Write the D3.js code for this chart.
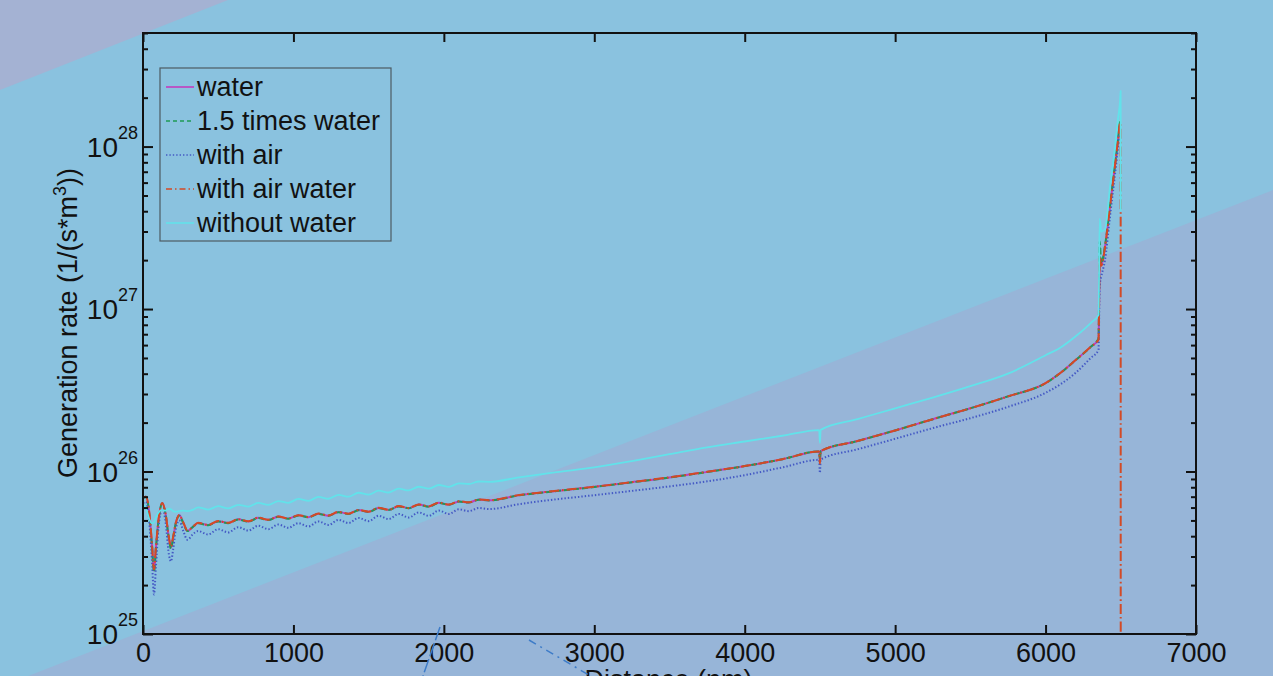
<!DOCTYPE html>
<html>
<head>
<meta charset="utf-8">
<script src="https://cdn.jsdelivr.net/npm/d3@7"></script>
<style>
  html, body { margin: 0; padding: 0; overflow: hidden; background: #8AC2DF; }
  svg { display: block; font-family: "Liberation Sans", Arial, sans-serif; }
</style>
</head>
<body>
<script>
// Distance along the device (nm)
const distance = [
  0, 20, 45, 60, 73, 86, 103, 128, 150, 172, 186, 200, 220, 241, 268, 295, 330,
  366, 433, 500, 566, 633, 700, 766, 833, 900, 966, 1033, 1100, 1166, 1233, 1300, 1366,
  1433, 1500, 1566, 1633, 1700, 1766, 1833, 1900, 1966, 2033,
  2100, 2166, 2233, 2300, 2500, 2750, 3000, 3250, 3500, 3750, 4000, 4250, 4495, 4500, 4505, 4750, 5000,
  5250, 5500, 5750, 6000, 6100, 6200, 6300,
  6352, 6360, 6370, 6395, 6428, 6462, 6482, 6495, 6499, 6500
];

// Generation rate, 1/(s*m^3)
const water = [
  6.9e25, 7.0e25, 5.2e25, 3.5e25, 2.45e25, 3.4e25, 5.0e25, 6.4e25, 5.5e25, 3.9e25, 3.4e25, 3.9e25, 4.9e25, 5.4e25, 4.85e25, 4.3e25, 4.55e25,
  4.82e25, 4.68e25, 4.95e25, 4.82e25, 5.08e25, 4.93e25, 5.19e25, 5.04e25, 5.28e25, 5.13e25, 5.38e25, 5.24e25, 5.50e25, 5.35e25, 5.64e25, 5.49e25,
  5.79e25, 5.65e25, 5.97e25, 5.81e25, 6.12e25, 5.95e25, 6.26e25, 6.09e25, 6.43e25, 6.25e25,
  6.55e25, 6.45e25, 6.72e25, 6.65e25, 7.15e25, 7.6e25, 8.05e25, 8.6e25, 9.2e25, 9.95e25, 1.08e26, 1.19e26, 1.33e26, 1.15e26, 1.335e26, 1.54e26, 1.79e26,
  2.1e26, 2.45e26, 2.9e26, 3.5e26, 4.05e26, 4.85e26, 5.85e26,
  6.5e26, 2.0e27, 1.85e27, 2.4e27, 4.26e27, 7.7e27, 1.1e28, 1.4e28, 1.4e28, 1.4e28
];
const water15 = [
  6.85e25, 7.0e25, 5.1e25, 3.45e25, 2.4e25, 3.35e25, 5.0e25, 6.35e25, 5.45e25, 3.85e25, 3.35e25, 3.9e25, 4.9e25, 5.35e25, 4.8e25, 4.3e25, 4.55e25,
  4.80e25, 4.67e25, 4.93e25, 4.81e25, 5.06e25, 4.92e25, 5.17e25, 5.03e25, 5.26e25, 5.12e25, 5.37e25, 5.23e25, 5.48e25, 5.34e25, 5.62e25, 5.48e25,
  5.77e25, 5.64e25, 5.95e25, 5.80e25, 6.10e25, 5.94e25, 6.24e25, 6.08e25, 6.41e25, 6.24e25,
  6.53e25, 6.44e25, 6.70e25, 6.64e25, 7.13e25, 7.58e25, 8.03e25, 8.58e25, 9.18e25, 9.93e25, 1.08e26, 1.19e26, 1.33e26, 1.18e26, 1.335e26, 1.54e26, 1.79e26,
  2.1e26, 2.45e26, 2.9e26, 3.5e26, 4.05e26, 4.85e26, 5.85e26,
  6.6e26, 2.6e27, 1.9e27, 2.45e27, 4.3e27, 7.8e27, 1.12e28, 1.42e28, 1.42e28, 1.42e28
];
const withAir = [
  6.4e25, 6.5e25, 4.5e25, 2.8e25, 1.75e25, 2.6e25, 4.5e25, 5.9e25, 4.9e25, 3.1e25, 2.8e25, 3.3e25, 4.5e25, 5.0e25, 4.3e25, 3.8e25, 4.1e25,
  4.30e25, 4.10e25, 4.42e25, 4.22e25, 4.54e25, 4.33e25, 4.64e25, 4.42e25, 4.72e25, 4.50e25, 4.81e25, 4.59e25, 4.93e25, 4.69e25, 5.04e25, 4.82e25,
  5.18e25, 4.95e25, 5.34e25, 5.10e25, 5.48e25, 5.21e25, 5.60e25, 5.34e25, 5.75e25, 5.48e25,
  5.85e25, 5.70e25, 5.97e25, 5.87e25, 6.3e25, 6.75e25, 7.15e25, 7.6e25, 8.1e25, 8.7e25, 9.5e25, 1.06e26, 1.18e26, 9.8e25, 1.185e26, 1.37e26, 1.59e26,
  1.85e26, 2.13e26, 2.5e26, 3.05e26, 3.45e26, 4.05e26, 5.0e26,
  5.6e26, 1.4e27, 1.58e27, 2.0e27, 3.7e27, 6.8e27, 1.0e28, 1.3e28, 1.3e28, 1.3e28
];
const withAirWater = [
  6.95e25, 7.0e25, 5.25e25, 3.55e25, 2.5e25, 3.45e25, 5.05e25, 6.4e25, 5.5e25, 3.95e25, 3.45e25, 3.95e25, 4.9e25, 5.4e25, 4.85e25, 4.35e25, 4.55e25,
  4.83e25, 4.69e25, 4.96e25, 4.83e25, 5.09e25, 4.94e25, 5.20e25, 5.05e25, 5.29e25, 5.14e25, 5.39e25, 5.25e25, 5.51e25, 5.36e25, 5.65e25, 5.50e25,
  5.80e25, 5.66e25, 5.98e25, 5.82e25, 6.13e25, 5.96e25, 6.27e25, 6.10e25, 6.44e25, 6.26e25,
  6.56e25, 6.46e25, 6.73e25, 6.66e25, 7.16e25, 7.61e25, 8.06e25, 8.61e25, 9.21e25, 9.96e25, 1.08e26, 1.19e26, 1.33e26, 1.12e26, 1.335e26, 1.54e26, 1.79e26,
  2.1e26, 2.45e26, 2.9e26, 3.5e26, 4.05e26, 4.85e26, 5.85e26,
  6.5e26, 2.1e27, 1.85e27, 2.4e27, 4.26e27, 7.7e27, 1.1e28, 1.4e28, 1.4e28, 1e20
];
const withoutWater = [
  6.3e25, 5.9e25, 5.0e25, 4.8e25, 4.85e25, 5.2e25, 5.6e25, 5.8e25, 5.75e25, 5.9e25, 5.85e25, 5.7e25, 5.65e25, 5.7e25, 5.75e25, 5.7e25, 5.8e25,
  6.02e25, 5.83e25, 6.12e25, 5.93e25, 6.24e25, 6.08e25, 6.41e25, 6.23e25, 6.58e25, 6.42e25, 6.78e25, 6.60e25, 6.98e25, 6.80e25, 7.18e25, 7.00e25,
  7.40e25, 7.21e25, 7.62e25, 7.43e25, 7.84e25, 7.65e25, 8.06e25, 7.84e25, 8.26e25, 8.05e25,
  8.45e25, 8.38e25, 8.68e25, 8.64e25, 9.2e25, 9.9e25, 1.06e26, 1.16e26, 1.28e26, 1.41e26, 1.53e26, 1.66e26, 1.80e26, 1.50e26, 1.805e26, 2.1e26, 2.45e26,
  2.85e26, 3.35e26, 4.0e26, 5.2e26, 5.8e26, 6.8e26, 8.2e26,
  9.2e26, 3.6e27, 3.0e27, 3.1e27, 5.6e27, 1.0e28, 1.5e28, 1.9e28, 2.2e28, 4.0e27
];

const seriesNames = ["water", "1.5 times water", "with air", "with air water", "without water"];
const xTicks = [0, 1000, 2000, 3000, 4000, 5000, 6000, 7000];
const yDecades = [25, 26, 27, 28];

const W = 1273, H = 676;
const svg = d3.select("body").append("svg").attr("width", W).attr("height", H);

// slide backdrop with diagonal bands
svg.append("rect").attr("width", W).attr("height", H).attr("fill", "#8AC2DF");
svg.append("polygon").attr("points", "0,0 228,0 0,90").attr("fill", "#A4B2D3");
svg.append("polygon").attr("points", "0,687 1273,190 1273,676 0,676").attr("fill", "#97B5D8");

const plot = { left: 143, right: 1196, top: 33, bottom: 634 };
const x = d3.scaleLinear().domain([0, 7000]).range([plot.left, plot.right]);
const y = d3.scaleLog().domain([1e25, 5e28]).range([plot.bottom, plot.top]);

svg.append("clipPath").attr("id", "plotClip")
  .append("rect")
  .attr("x", plot.left).attr("y", plot.top)
  .attr("width", plot.right - plot.left).attr("height", plot.bottom - plot.top);

const styles = [
  { color: "#C23CBE", dash: null, width: 2 },
  { color: "#1F9A55", dash: "6,3", width: 2 },
  { color: "#4459C4", dash: "1.4,2", width: 2 },
  { color: "#D34A26", dash: "10,3,1.6,3", width: 2 },
  { color: "#62E2EA", dash: null, width: 1.8 }
];
const allSeries = [water, water15, withAir, withAirWater, withoutWater];

const line = d3.line()
  .x(d => x(d[0]))
  .y(d => y(d[1]))
  .curve(d3.curveMonotoneX);

const lines = svg.append("g").attr("clip-path", "url(#plotClip)");
allSeries.forEach((vals, i) => {
  const pts = distance.map((d, k) => [d, vals[k]]);
  lines.append("path")
    .datum(pts)
    .attr("d", line)
    .attr("fill", "none")
    .attr("stroke", styles[i].color)
    .attr("stroke-width", styles[i].width)
    .attr("stroke-dasharray", styles[i].dash)
    .attr("stroke-linejoin", "round");
});

// axes: ticks point inward on all four sides
const minorVals = [];
yDecades.forEach(d => {
  for (let m = 2; m <= 9; m++) {
    const v = m * Math.pow(10, d);
    if (v <= 5e28) minorVals.push(v);
  }
});
const majorVals = yDecades.map(d => Math.pow(10, d));

function styleAxis(g) {
  g.select(".domain").remove();
  g.selectAll(".tick line").attr("stroke", "#111").attr("stroke-width", 2);
}

svg.append("g").attr("transform", `translate(0,${plot.bottom})`)
  .call(d3.axisBottom(x).tickValues(xTicks).tickSize(-9).tickSizeOuter(0).tickPadding(9).tickFormat(d3.format("d")))
  .call(styleAxis)
  .call(g => g.selectAll(".tick text")
    .attr("font-size", 27).attr("fill", "#111")
    .attr("font-family", "Liberation Sans, Arial, sans-serif"));

svg.append("g").attr("transform", `translate(0,${plot.top})`)
  .call(d3.axisTop(x).tickValues(xTicks).tickSize(-9).tickSizeOuter(0).tickFormat(""))
  .call(styleAxis);

svg.append("g").attr("transform", `translate(${plot.left},0)`)
  .call(d3.axisLeft(y).tickValues(majorVals).tickSize(-10).tickSizeOuter(0).tickFormat(""))
  .call(styleAxis);
svg.append("g").attr("transform", `translate(${plot.left},0)`)
  .call(d3.axisLeft(y).tickValues(minorVals).tickSize(-5).tickSizeOuter(0).tickFormat(""))
  .call(styleAxis);
svg.append("g").attr("transform", `translate(${plot.right},0)`)
  .call(d3.axisRight(y).tickValues(majorVals).tickSize(-10).tickSizeOuter(0).tickFormat(""))
  .call(styleAxis);
svg.append("g").attr("transform", `translate(${plot.right},0)`)
  .call(d3.axisRight(y).tickValues(minorVals).tickSize(-5).tickSizeOuter(0).tickFormat(""))
  .call(styleAxis);

// plot frame
svg.append("rect")
  .attr("x", plot.left).attr("y", plot.top)
  .attr("width", plot.right - plot.left).attr("height", plot.bottom - plot.top)
  .attr("fill", "none").attr("stroke", "#111").attr("stroke-width", 2);

// decade labels written as powers of ten
const yLab = svg.append("g").attr("fill", "#111");
yDecades.forEach(d => {
  const t = yLab.append("text")
    .attr("x", plot.left - 5)
    .attr("y", y(Math.pow(10, d)) + 10)
    .attr("text-anchor", "end");
  t.append("tspan").attr("font-size", 28).text("10");
  t.append("tspan").attr("font-size", 18).attr("dy", -18).text(String(d));
});

// axis titles
const yTitle = svg.append("text")
  .attr("transform", "translate(77,323) rotate(-90)")
  .attr("text-anchor", "middle")
  .attr("font-size", 27).attr("fill", "#111");
yTitle.append("tspan").text("Generation rate (1/(s*m");
yTitle.append("tspan").attr("font-size", 18).attr("dy", -11).text("3");
yTitle.append("tspan").attr("dy", 11).text("))");

svg.append("text")
  .attr("x", (plot.left + plot.right) / 2 - 1)
  .attr("y", 689)
  .attr("text-anchor", "middle")
  .attr("font-size", 27).attr("fill", "#111")
  .text("Distance (nm)");

// legend
const legend = svg.append("g");
legend.append("rect")
  .attr("x", 160).attr("y", 68).attr("width", 231).attr("height", 173)
  .attr("fill", "none").attr("stroke", "#4d5a63").attr("stroke-width", 1.2);
seriesNames.forEach((name, i) => {
  const cy = 87 + i * 34;
  legend.append("line")
    .attr("x1", 166).attr("x2", 194).attr("y1", cy).attr("y2", cy)
    .attr("stroke", styles[i].color).attr("stroke-width", 1.6)
    .attr("stroke-dasharray", i === 1 ? "4,3" : i === 3 ? "6,3,1.5,3" : styles[i].dash);
  legend.append("text")
    .attr("x", 197).attr("y", cy + 9)
    .attr("font-size", 27).attr("fill", "#111")
    .text(name);
});

// stray slide graphics along the bottom edge
svg.append("line")
  .attr("x1", 440).attr("y1", 627).attr("x2", 423).attr("y2", 676)
  .attr("stroke", "#3E7CC8").attr("stroke-width", 1.5).attr("stroke-dasharray", "14,3");
svg.append("line")
  .attr("x1", 529).attr("y1", 640).attr("x2", 594).attr("y2", 678)
  .attr("stroke", "#3E7CC8").attr("stroke-width", 1.5).attr("stroke-dasharray", "8,5,2,5");
</script>
</body>
</html>
